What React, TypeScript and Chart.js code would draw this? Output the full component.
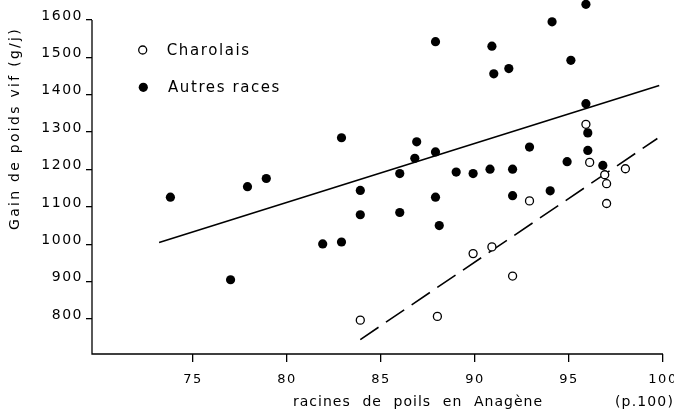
import { useEffect, useRef } from "react";
import { Chart, registerables } from "chart.js";

Chart.register(...registerables);

// Charolais (open circles)
const charolaisX = [83.9, 88.0, 89.9, 90.9, 92.0, 92.9, 95.9, 96.1, 96.9, 97.0, 97.0, 98.0];
const charolaisY = [797, 807, 975, 993, 915, 1116, 1321, 1219, 1186, 1162, 1109, 1202];

// Autres races (filled circles)
const autresX = [
  73.8, 77.0, 77.9, 78.9, 81.9, 82.9, 82.9, 83.9, 83.9, 86.0, 86.0, 86.9,
  86.8, 87.9, 87.9, 87.9, 88.1, 89.0, 89.9, 90.8, 90.9, 91.0, 91.8, 92.0,
  92.0, 92.9, 94.0, 94.1, 94.9, 95.1, 95.9, 95.9, 96.0, 96.0, 96.8,
];
const autresY = [
  1126, 905, 1154, 1176, 1001, 1006, 1285, 1144, 1079, 1189, 1085, 1274,
  1230, 1542, 1247, 1126, 1050, 1193, 1189, 1201, 1530, 1456, 1470, 1201,
  1130, 1260, 1143, 1595, 1221, 1492, 1642, 1376, 1298, 1251, 1211,
];

// Regression lines
const regAutresX = [73.2, 99.8];
const regAutresY = [1005, 1425];
const regCharX = [83.9, 99.7];
const regCharY = [745, 1283];

// Axes
const xTicks = [75, 80, 85, 90, 95, 100];
const yTicks = [800, 900, 1000, 1100, 1200, 1300, 1400, 1500, 1600];
const xMin = 69.63;
const xMax = 100;
const yMin = 706.4;
const yMax = 1653.5;

const legendLabels = ["Charolais", "Autres races"];
const yTitle = "Gain de poids vif (g/j)";
const xTitle = "racines de poils en Anagène";
const xUnit = "(p.100)";

const FONT = '"DejaVu Sans", sans-serif';

// draw text stretched (letter/word spacing) to a target width
function fitText(
  ctx: any,
  text: string,
  x: number,
  y: number,
  target: number,
  wordGap: boolean
) {
  ctx.letterSpacing = "0px";
  ctx.wordSpacing = "0px";
  const w0 = ctx.measureText(text).width;
  const n = text.length;
  const spaces = (text.match(/ /g) || []).length;
  if (wordGap && spaces > 0) {
    ctx.letterSpacing = "1px";
    const w1 = ctx.measureText(text).width;
    ctx.wordSpacing = `${(target - w1) / spaces}px`;
    const w2 = ctx.measureText(text).width;
    if (Math.abs(w2 - target) > 3) {
      ctx.wordSpacing = "0px";
      ctx.letterSpacing = `${(target - w0) / n}px`;
    }
  } else {
    ctx.letterSpacing = `${(target - w0) / n}px`;
  }
  ctx.fillText(text, x, y);
  ctx.letterSpacing = "0px";
  ctx.wordSpacing = "0px";
}

const decorPlugin = {
  id: "decor",
  beforeLayout(chart: any) {
    chart.ctx.letterSpacing = "1.5px";
  },
  beforeDraw(chart: any) {
    chart.ctx.letterSpacing = "1.5px";
  },
  afterDraw(chart: any) {
    const ctx = chart.ctx as any;
    const xs = chart.scales.x;
    const ys = chart.scales.y;
    const area = chart.chartArea;
    ctx.save();
    // axis lines
    ctx.strokeStyle = "#000";
    ctx.lineWidth = 1.3;
    ctx.beginPath();
    ctx.moveTo(area.left, ys.getPixelForValue(yTicks[yTicks.length - 1]));
    ctx.lineTo(area.left, area.bottom);
    ctx.lineTo(xs.getPixelForValue(xTicks[xTicks.length - 1]), area.bottom);
    ctx.stroke();

    // legend
    ctx.fillStyle = "#000";
    ctx.font = `15px ${FONT}`;
    ctx.textAlign = "left";
    ctx.textBaseline = "alphabetic";
    fitText(ctx, legendLabels[0], 166.7, 55, 84, false);
    fitText(ctx, legendLabels[1], 168, 91.5, 113, false);
    ctx.beginPath();
    ctx.arc(142.7, 50, 4, 0, Math.PI * 2);
    ctx.lineWidth = 1.3;
    ctx.stroke();
    ctx.beginPath();
    ctx.arc(143.3, 87.3, 4.6, 0, Math.PI * 2);
    ctx.fill();

    // x title
    ctx.font = `14px ${FONT}`;
    fitText(ctx, xTitle, 293, 406, 250, true);
    fitText(ctx, xUnit, 615, 406, 59, false);

    // y title
    ctx.translate(15, 230);
    ctx.rotate(-Math.PI / 2);
    ctx.textAlign = "left";
    ctx.textBaseline = "middle";
    fitText(ctx, yTitle, 0, 0, 203, false);
    ctx.restore();
  },
};

export default function App() {
  const ref = useRef<HTMLCanvasElement>(null);
  useEffect(() => {
    const chart = new Chart(ref.current!, {
      type: "scatter",
      data: {
        datasets: [
          {
            label: legendLabels[0],
            data: charolaisX.map((x, i) => ({ x, y: charolaisY[i] })),
            pointRadius: 4,
            pointBorderWidth: 1.3,
            pointBackgroundColor: "#fff",
            pointBorderColor: "#000",
            showLine: false,
          },
          {
            label: legendLabels[1],
            data: autresX.map((x, i) => ({ x, y: autresY[i] })),
            pointRadius: 4.6,
            pointBorderWidth: 0,
            pointBackgroundColor: "#000",
            pointBorderColor: "#000",
            showLine: false,
          },
          {
            label: "reg-autres",
            data: regAutresX.map((x, i) => ({ x, y: regAutresY[i] })),
            showLine: true,
            pointRadius: 0,
            borderColor: "#000",
            borderWidth: 1.6,
            tension: 0,
          },
          {
            label: "reg-charolais",
            data: regCharX.map((x, i) => ({ x, y: regCharY[i] })),
            showLine: true,
            pointRadius: 0,
            borderColor: "#000",
            borderWidth: 1.6,
            borderDash: [22, 9],
            tension: 0,
          },
        ],
      },
      options: {
        animation: false,
        responsive: true,
        maintainAspectRatio: false,
        clip: false as any,
        layout: {
          autoPadding: false,
          padding: { left: 0, top: 0, right: 11, bottom: 0 },
        } as any,
        plugins: { legend: { display: false }, tooltip: { enabled: false } },
        scales: {
          x: {
            type: "linear",
            min: xMin,
            max: xMax,
            afterBuildTicks: (s: any) => {
              s.ticks = xTicks.map((v) => ({ value: v }));
            },
            afterFit: (s: any) => {
              s.height = 60;
              s.paddingLeft = 0;
              s.paddingRight = 0;
            },
            border: { display: false },
            grid: {
              display: true,
              drawOnChartArea: false,
              drawTicks: true,
              tickLength: 8,
              color: "#000",
              lineWidth: 1.3,
            },
            ticks: {
              color: "#000",
              font: { family: FONT, size: 13 },
              padding: 10,
              maxRotation: 0,
              autoSkip: false,
              callback: (v: any) => String(v),
            },
          },
          y: {
            type: "linear",
            min: yMin,
            max: yMax,
            afterBuildTicks: (s: any) => {
              s.ticks = yTicks.map((v) => ({ value: v }));
            },
            afterFit: (s: any) => {
              s.width = 92;
              s.paddingTop = 0;
              s.paddingBottom = 0;
            },
            border: { display: false },
            grid: {
              display: true,
              drawOnChartArea: false,
              drawTicks: true,
              tickLength: 6,
              color: "#000",
              lineWidth: 1.3,
            },
            ticks: {
              color: "#000",
              font: { family: FONT, size: 14 },
              padding: 3,
              labelOffset: -4,
              autoSkip: false,
              callback: (v: any) => String(v),
            },
          },
        },
      },
      plugins: [decorPlugin],
    });
    return () => chart.destroy();
  }, []);
  return (
    <div
      style={{
        position: "fixed",
        left: 0,
        top: 0,
        width: 674,
        height: 414,
        background: "#fff",
      }}
    >
      <canvas ref={ref} />
    </div>
  );
}
